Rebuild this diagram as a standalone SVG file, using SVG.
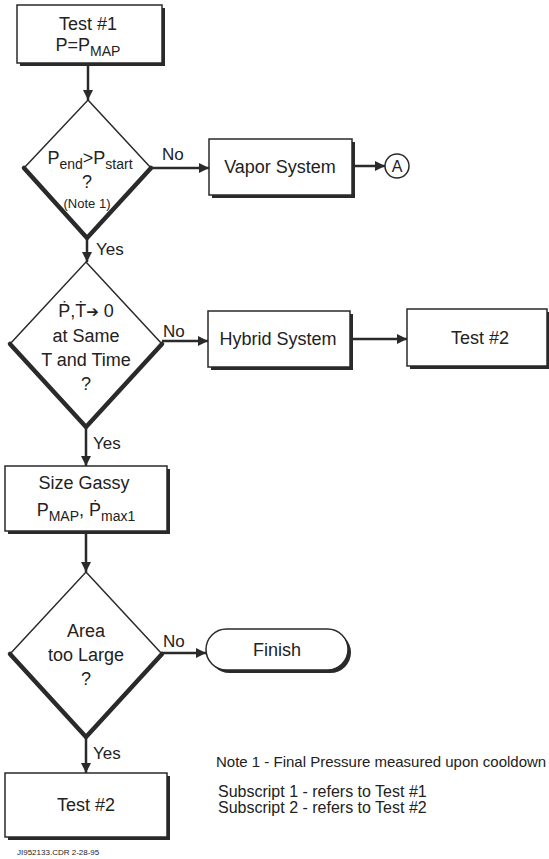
<svg xmlns="http://www.w3.org/2000/svg" width="549" height="859" viewBox="0 0 549 859">
<defs>
<marker id="ah" viewBox="0 0 10 10" refX="10" refY="5" markerWidth="10" markerHeight="10" markerUnits="userSpaceOnUse" orient="auto">
<path d="M0,0 L10,5 L0,10 Z" fill="#2a2a2a"/>
</marker>
</defs>
<style>
text{font-family:"Liberation Sans",Arial,sans-serif;fill:#222;}
.lbl{font-size:18px;text-anchor:middle;}
.edge{font-size:17px;}
.box{fill:#fff;stroke:#2a2a2a;stroke-width:1.5;}
.shadow{fill:#2a2a2a;}
.dia{fill:#fff;stroke:#2a2a2a;stroke-width:1.5;}
.thick{fill:none;stroke:#2a2a2a;stroke-width:4.5;stroke-linecap:round;}
.con{fill:none;stroke:#2a2a2a;stroke-width:2.5;marker-end:url(#ah);}
.note{font-size:15px;}
.note2{font-size:16px;}
.sub{font-size:14px;}
.small{font-size:13px;}
</style>
<rect width="549" height="859" fill="#fff"/>

<g id="connectors">
<line class="con" x1="88" y1="63" x2="88" y2="100"/>
<line class="con" x1="151" y1="168" x2="209" y2="168"/>
<line class="con" x1="352" y1="166" x2="385" y2="166"/>
<line class="con" x1="87" y1="238" x2="87" y2="262"/>
<line class="con" x1="162" y1="341" x2="208" y2="341"/>
<line class="con" x1="350" y1="339" x2="407" y2="339"/>
<line class="con" x1="86" y1="427" x2="86" y2="466"/>
<line class="con" x1="86" y1="531" x2="86" y2="572"/>
<line class="con" x1="162" y1="653" x2="206" y2="653"/>
<line class="con" x1="86" y1="737" x2="86" y2="773"/>
<text class="edge" x="162" y="160">No</text>
<text class="edge" x="96" y="255">Yes</text>
<text class="edge" x="163" y="337">No</text>
<text class="edge" x="93" y="449">Yes</text>
<text class="edge" x="163" y="647">No</text>
<text class="edge" x="93" y="759">Yes</text>
</g>

<g id="test1">
<rect class="shadow" x="20" y="8" width="145" height="58"/>
<rect class="box" x="17" y="5" width="145" height="58"/>
<text class="lbl" x="88" y="30">Test #1</text>
<text class="lbl" x="88" y="51">P=P<tspan class="sub" dy="5">MAP</tspan></text>
</g>

<g id="decision1">
<polygon class="dia" points="88,100 151,168 87,238 24,168"/>
<polyline class="thick" points="24,168 87,238 151,168"/>
<text class="lbl" x="90" y="164">P<tspan class="sub" dy="5">end</tspan><tspan dy="-5">&gt;P</tspan><tspan class="sub" dy="5">start</tspan></text>
<text class="lbl" x="87" y="188">?</text>
<text class="lbl small" x="87" y="208">(Note 1)</text>
</g>

<g id="vapor">
<rect class="shadow" x="212" y="142" width="143" height="56"/>
<rect class="box" x="209" y="139" width="143" height="56"/>
<text class="lbl" x="280" y="173">Vapor System</text>
</g>

<g id="connA">
<circle cx="397" cy="166" r="12" fill="#fff" stroke="#2a2a2a" stroke-width="1.5"/>
<text class="lbl" x="397" y="172" style="font-size:16px">A</text>
</g>

<g id="decision2">
<polygon class="dia" points="86,262 162,344 86,427 10,344"/>
<polyline class="thick" points="10,344 86,427 162,344"/>
<text class="lbl" x="86" y="317">Ṗ,Ṫ<tspan style="font-family:'DejaVu Sans',sans-serif;font-size:15px">➔</tspan> 0</text>
<text class="lbl" x="86" y="342">at Same</text>
<text class="lbl" x="86" y="366">T and Time</text>
<text class="lbl" x="86" y="390">?</text>
</g>

<g id="hybrid">
<rect class="shadow" x="211" y="314" width="142" height="56"/>
<rect class="box" x="208" y="311" width="142" height="56"/>
<text class="lbl" x="278" y="345">Hybrid System</text>
</g>

<g id="test2a">
<rect class="shadow" x="410" y="312" width="140" height="57"/>
<rect class="box" x="407" y="309" width="140" height="57"/>
<text class="lbl" x="480" y="344">Test #2</text>
</g>

<g id="sizegassy">
<rect class="shadow" x="8" y="469" width="162" height="65"/>
<rect class="box" x="5" y="466" width="162" height="65"/>
<text class="lbl" x="84" y="489">Size Gassy</text>
<text class="lbl" x="86" y="516">P<tspan class="sub" dy="5">MAP</tspan><tspan dy="-5">, Ṗ</tspan><tspan class="sub" dy="5">max1</tspan></text>
</g>

<g id="decision3">
<polygon class="dia" points="86,572 162,654 86,737 10,654"/>
<polyline class="thick" points="10,654 86,737 162,654"/>
<text class="lbl" x="86" y="637">Area</text>
<text class="lbl" x="86" y="661">too Large</text>
<text class="lbl" x="86" y="685">?</text>
</g>

<g id="finish">
<rect class="shadow" x="209" y="632" width="142" height="41" rx="20.5"/>
<rect class="box" x="206" y="629" width="142" height="41" rx="20.5"/>
<text class="lbl" x="277" y="656">Finish</text>
</g>

<g id="test2b">
<rect class="shadow" x="8" y="776" width="162" height="64"/>
<rect class="box" x="5" y="773" width="162" height="64"/>
<text class="lbl" x="86" y="811">Test #2</text>
</g>

<g id="notes">
<text class="note" x="216" y="767">Note 1 - Final Pressure measured upon cooldown</text>
<text class="note2" x="218" y="797">Subscript 1 - refers to Test #1</text>
<text class="note2" x="218" y="813">Subscript 2 - refers to Test #2</text>
<text x="17" y="855" font-size="8">JI952133.CDR 2-28-95</text>
</g>
</svg>
